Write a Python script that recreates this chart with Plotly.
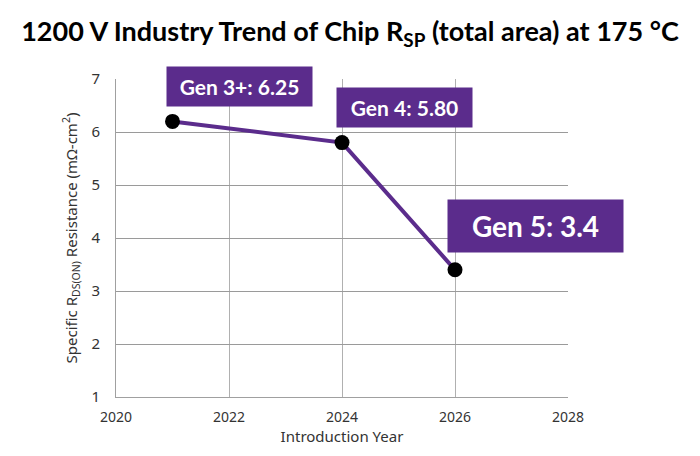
import plotly.graph_objects as go

years = [2021, 2024, 2026]
rsp = [6.2, 5.8, 3.4]
labels = ["Gen 3+: 6.25", "Gen 4: 5.80", "Gen 5: 3.4"]
x_ticks = [2020, 2022, 2024, 2026, 2028]
y_ticks = [1, 2, 3, 4, 5, 6, 7]

PURPLE = "#5b2c8c"

fig = go.Figure()
fig.add_trace(go.Scatter(
    x=years, y=rsp, mode="lines+markers",
    line=dict(color=PURPLE, width=4),
    marker=dict(color="black", size=15),
    hoverinfo="skip", showlegend=False,
))

ann_pos = [(2022.18, 6.86, 21, 145, 39), (2025.10, 6.46, 21, 135, 39), (2027.43, 4.23, 28, 175, 52)]
for (ax, ay, fs, w, h), t in zip(ann_pos, labels):
    fig.add_annotation(x=ax, y=ay, xref="x", yref="y", text="<b>" + t + "</b>",
                       showarrow=False, bgcolor=PURPLE, width=w, height=h, borderpad=0,
                       font=dict(family="Lato", size=fs, color="white"))

fig.update_layout(
    width=700, height=456,
    margin=dict(l=116, r=132, t=79, b=59),
    paper_bgcolor="white", plot_bgcolor="white",
    title=dict(text="<b>1200 V Industry Trend of Chip R<sub>SP</sub> (total area) at 175 °C</b>",
               x=0.5, xanchor="center", y=0.93, yanchor="middle",
               font=dict(family="Lato", size=27, color="black")),
    font=dict(family="Noto Sans", size=14, color="#333"),
    xaxis=dict(range=[2020, 2028], tickvals=x_ticks, showgrid=True, gridcolor="#b0b0b0",
               showline=True, linecolor="#a0a0a0", zeroline=False, ticks="",
               ticklabelstandoff=7,
               title=dict(text="Introduction Year", font=dict(size=15), standoff=4)),
    yaxis=dict(range=[1, 7], tickvals=y_ticks, showgrid=True, gridcolor="#9a9a9a",
               showline=True, linecolor="#a0a0a0", zeroline=False, ticks="",
               ticklabelstandoff=12, tickfont=dict(size=15),
               title=dict(text="Specific R<sub>DS(ON)</sub> Resistance (mΩ-cm<sup>2</sup>)",
                          font=dict(size=15), standoff=10)),
)
fig.write_html("out.html")
